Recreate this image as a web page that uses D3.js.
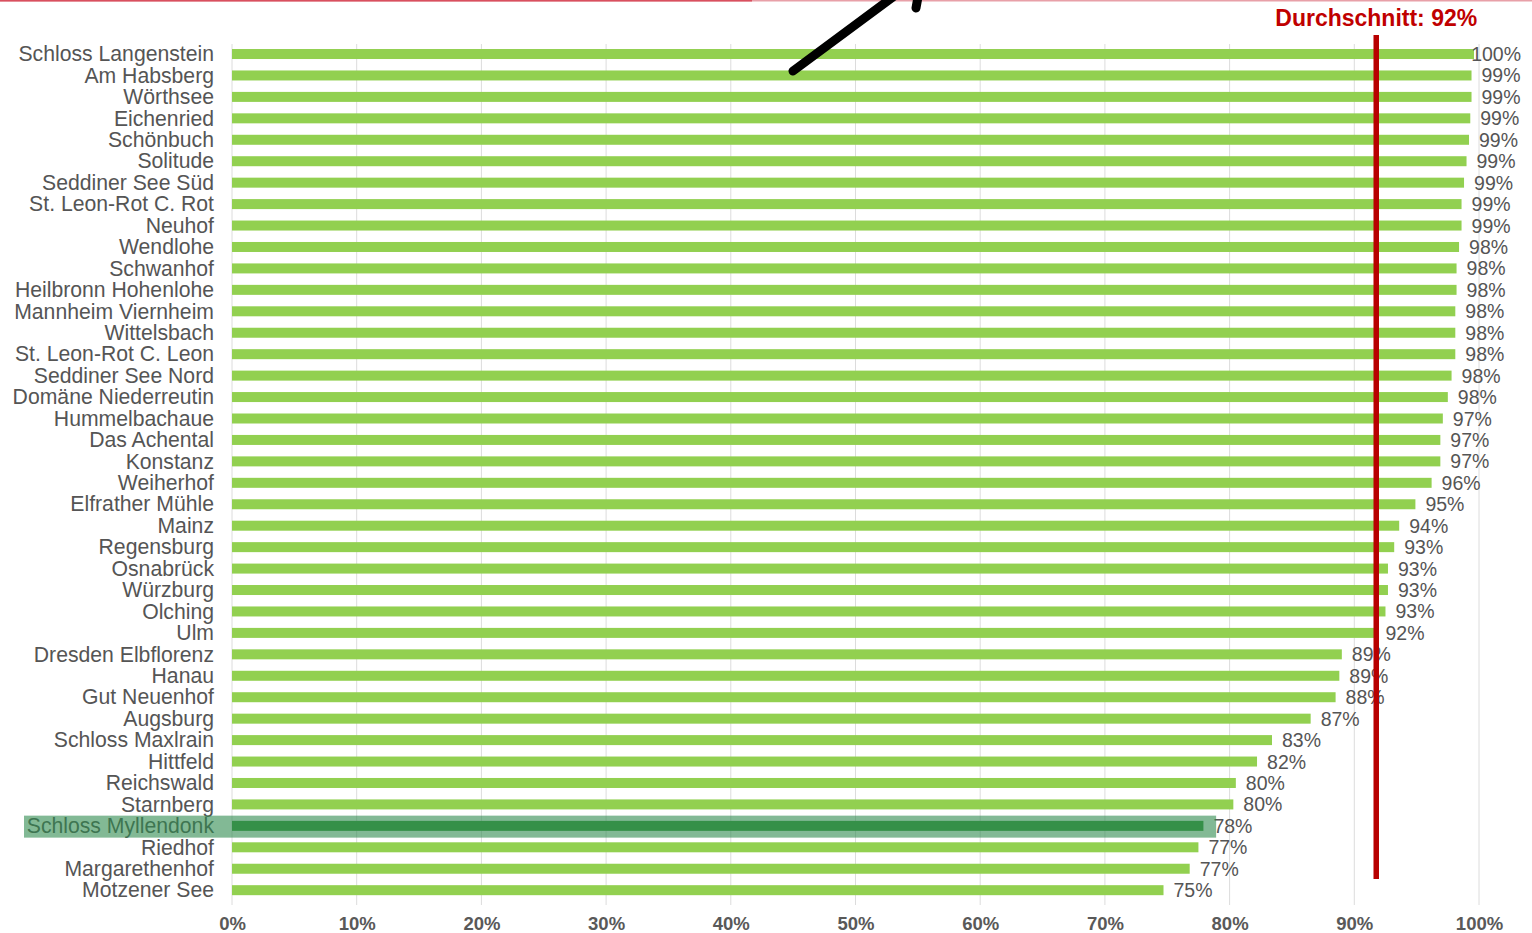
<!DOCTYPE html>
<html>
<head>
<meta charset="utf-8">
<script src="https://cdn.jsdelivr.net/npm/d3@7"></script>
<style>
  body { margin: 0; background: #fff; }
  text { font-family: "Liberation Sans", Arial, sans-serif; }
</style>
</head>
<body>
<div class="chart"></div>
<script>
// data
var categories = [
  "Schloss Langenstein", "Am Habsberg", "Wörthsee", "Eichenried", "Schönbuch",
  "Solitude", "Seddiner See Süd", "St. Leon-Rot C. Rot", "Neuhof", "Wendlohe",
  "Schwanhof", "Heilbronn Hohenlohe", "Mannheim Viernheim", "Wittelsbach", "St. Leon-Rot C. Leon",
  "Seddiner See Nord", "Domäne Niederreutin", "Hummelbachaue", "Das Achental", "Konstanz",
  "Weiherhof", "Elfrather Mühle", "Mainz", "Regensburg", "Osnabrück",
  "Würzburg", "Olching", "Ulm", "Dresden Elbflorenz", "Hanau",
  "Gut Neuenhof", "Augsburg", "Schloss Maxlrain", "Hittfeld", "Reichswald",
  "Starnberg", "Schloss Myllendonk", "Riedhof", "Margarethenhof", "Motzener See"
];
var values = [
  99.6, 99.4, 99.4, 99.3, 99.2,
  99.0, 98.8, 98.6, 98.6, 98.4,
  98.2, 98.2, 98.1, 98.1, 98.1,
  97.8, 97.5, 97.1, 96.9, 96.9,
  96.2, 94.9, 93.6, 93.2, 92.7,
  92.7, 92.5, 91.7, 89.0, 88.8,
  88.5, 86.5, 83.4, 82.2, 80.5,
  80.3, 77.9, 77.5, 76.8, 74.7
];
var valueLabels = [
  "100%", "99%", "99%", "99%", "99%",
  "99%", "99%", "99%", "99%", "98%",
  "98%", "98%", "98%", "98%", "98%",
  "98%", "98%", "97%", "97%", "97%",
  "96%", "95%", "94%", "93%", "93%",
  "93%", "93%", "92%", "89%", "89%",
  "88%", "87%", "83%", "82%", "80%",
  "80%", "78%", "77%", "77%", "75%"
];
var xTicks = [0, 10, 20, 30, 40, 50, 60, 70, 80, 90, 100];
var average = 92;
var averageLabel = "Durchschnitt: 92%";
var highlighted = "Schloss Myllendonk";

var svgWidth = 1532;
var svgHeight = 933;

var svg = d3.select(".chart")
  .append("svg")
  .attr("width", svgWidth)
  .attr("height", svgHeight);

// scales
var xScale = d3.scaleLinear()
  .domain([0, 100])
  .range([232, 1479]);

var yScale = d3.scaleBand()
  .domain(categories)
  .range([43.3, 900.9])
  .padding(0);

var barH = 10;

// thin red line along the top edge
svg.append("line")
  .attr("x1", 0).attr("x2", svgWidth)
  .attr("y1", 0.5).attr("y2", 0.5)
  .attr("stroke", "#e8a0a8")
  .attr("stroke-width", 2);
svg.append("line")
  .attr("x1", 0).attr("x2", 752)
  .attr("y1", 0.5).attr("y2", 0.5)
  .attr("stroke", "#d9505f")
  .attr("stroke-width", 2);

// gridlines
svg.append("g")
  .selectAll("line")
  .data(xTicks)
  .enter()
  .append("line")
  .attr("x1", d => xScale(d))
  .attr("x2", d => xScale(d))
  .attr("y1", 44)
  .attr("y2", 905)
  .attr("stroke", "#dcdcdc")
  .attr("stroke-width", 1);

// bottom axis
var bottomAxis = d3.axisBottom(xScale)
  .tickValues(xTicks)
  .tickSize(0)
  .tickPadding(0)
  .tickFormat(d => d + "%");

var axisG = svg.append("g")
  .attr("transform", "translate(0, 917)")
  .call(bottomAxis);
axisG.select(".domain").remove();
axisG.selectAll("text")
  .attr("font-family", "'Liberation Sans', Arial, sans-serif")
  .attr("font-size", "18.5px")
  .attr("font-weight", "bold")
  .attr("fill", "#595959");

// left axis (category names)
var leftAxis = d3.axisLeft(yScale)
  .tickSize(0)
  .tickPadding(18);

var leftG = svg.append("g")
  .attr("transform", "translate(232, 0)")
  .call(leftAxis);
leftG.select(".domain").remove();
leftG.selectAll("text")
  .attr("font-family", "'Liberation Sans', Arial, sans-serif")
  .attr("font-size", "21.2px")
  .attr("fill", "#555")
  .attr("dy", "0.34em");

// bars
var rows = categories.map((c, i) => ({ name: c, value: values[i], label: valueLabels[i] }));

svg.append("g")
  .selectAll("rect")
  .data(rows)
  .enter()
  .append("rect")
  .attr("x", xScale(0))
  .attr("y", d => yScale(d.name) + yScale.bandwidth() / 2 - barH / 2)
  .attr("width", d => xScale(d.value) - xScale(0))
  .attr("height", barH)
  .attr("fill", d => d.name === highlighted ? "#3f9a3f" : "#92d050");

// value labels, kept inside the right edge
svg.append("g")
  .selectAll("text")
  .data(rows)
  .enter()
  .append("text")
  .attr("y", d => yScale(d.name) + yScale.bandwidth() / 2)
  .attr("dy", "0.36em")
  .attr("font-size", "19.5px")
  .attr("fill", "#555")
  .text(d => d.label)
  .attr("x", function (d) {
    var w = this.getComputedTextLength();
    return Math.min(xScale(d.value) + 10, 1521 - w);
  });

// highlight box over the selected row
svg.append("rect")
  .attr("x", 24)
  .attr("y", yScale(highlighted) + 0.5)
  .attr("width", xScale(79) - 1 - 24)
  .attr("height", 22)
  .attr("fill", "#2f8a4e")
  .attr("opacity", 0.6);

// average line
svg.append("line")
  .attr("x1", xScale(average) - 3)
  .attr("x2", xScale(average) - 3)
  .attr("y1", 35)
  .attr("y2", 879)
  .attr("stroke", "#b80000")
  .attr("stroke-width", 5.5);

svg.append("text")
  .attr("x", xScale(average) - 3)
  .attr("y", 26)
  .attr("text-anchor", "middle")
  .attr("font-size", "23px")
  .attr("font-weight", "bold")
  .attr("fill", "#c00000")
  .text(averageLabel);

// black arrow stroke at the top
svg.append("path")
  .attr("d", "M793,71 L893,-3")
  .attr("stroke", "#000")
  .attr("stroke-width", 9)
  .attr("stroke-linecap", "round")
  .attr("fill", "none");
svg.append("path")
  .attr("d", "M918,-3 L916,8")
  .attr("stroke", "#000")
  .attr("stroke-width", 9)
  .attr("stroke-linecap", "round")
  .attr("fill", "none");
</script>
</body>
</html>
